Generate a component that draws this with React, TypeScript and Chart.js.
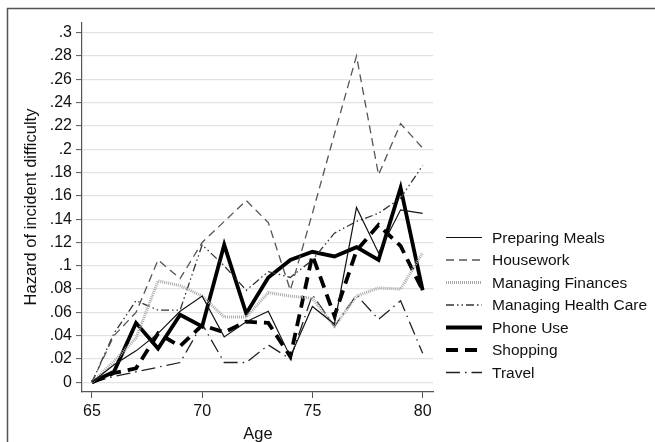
import React, { useEffect, useRef } from "react";
import { Chart, registerables } from "chart.js";

Chart.register(...registerables);

const ages = [65, 66, 67, 68, 69, 70, 71, 72, 73, 74, 75, 76, 77, 78, 79, 80];
const preparingMeals = [0, 0.015, 0.027, 0.042, 0.061, 0.074, 0.039, 0.052, 0.061, 0.022, 0.065, 0.05, 0.15, 0.111, 0.148, 0.145];
const housework = [0, 0.04, 0.06, 0.105, 0.089, 0.12, 0.138, 0.156, 0.137, 0.079, 0.145, 0.213, 0.28, 0.178, 0.222, 0.201];
const managingFinances = [0, 0.018, 0.038, 0.087, 0.083, 0.074, 0.056, 0.056, 0.077, 0.074, 0.072, 0.048, 0.074, 0.081, 0.08, 0.111];
const managingHealthCare = [0, 0.042, 0.07, 0.062, 0.062, 0.118, 0.1, 0.079, 0.095, 0.09, 0.105, 0.128, 0.138, 0.145, 0.158, 0.186];
const phoneUse = [0, 0.009, 0.051, 0.029, 0.058, 0.048, 0.118, 0.059, 0.09, 0.105, 0.112, 0.108, 0.116, 0.105, 0.167, 0.079];
const shopping = [0, 0.008, 0.012, 0.042, 0.031, 0.049, 0.043, 0.052, 0.051, 0.022, 0.109, 0.057, 0.113, 0.135, 0.117, 0.079];
const travel = [0, 0.005, 0.009, 0.013, 0.017, 0.05, 0.017, 0.017, 0.032, 0.02, 0.075, 0.048, 0.075, 0.054, 0.07, 0.025];

const yTicks = [0, 0.02, 0.04, 0.06, 0.08, 0.1, 0.12, 0.14, 0.16, 0.18, 0.2, 0.22, 0.24, 0.26, 0.28, 0.3];
const xTicks = [65, 70, 75, 80];

const seriesNames = ["Preparing Meals", "Housework", "Managing Finances", "Managing Health Care", "Phone Use", "Shopping", "Travel"];
const seriesValues = [preparingMeals, housework, managingFinances, managingHealthCare, phoneUse, shopping, travel];
const seriesStyles = [
  { color: "#111", width: 1.2, dash: [] as number[] },
  { color: "#555", width: 1.3, dash: [8, 5] },
  { color: "#aaa", width: 3, dash: [1, 1] },
  { color: "#333", width: 1.3, dash: [8, 3, 1.5, 3, 1.5, 3] },
  { color: "#000", width: 3.8, dash: [] as number[] },
  { color: "#000", width: 3.8, dash: [12, 7] },
  { color: "#222", width: 1.3, dash: [14, 5, 1.5, 5] },
];

const FONT = "'Liberation Sans', Arial, sans-serif";

function fmtY(v: number): string {
  if (v === 0) return "0";
  const s = (Math.round(v * 100) / 100).toString();
  return s.replace(/^0/, "");
}

export default function App() {
  const ref = useRef<HTMLCanvasElement | null>(null);
  useEffect(() => {
    if (!ref.current) return;
    const extras = {
      id: "extras",
      afterDraw(chart: any) {
        const ctx = chart.ctx as CanvasRenderingContext2D;
        ctx.save();
        ctx.strokeStyle = "#555";
        ctx.lineWidth = 1.5;
        ctx.setLineDash([]);
        ctx.beginPath();
        ctx.moveTo(7.5, 442);
        ctx.lineTo(7.5, 8.5);
        ctx.lineTo(655, 8.5);
        ctx.stroke();
        const y0 = 237.5;
        const dy = 22.5;
        ctx.font = `15.5px ${FONT}`;
        ctx.textBaseline = "middle";
        ctx.textAlign = "left";
        seriesNames.forEach((name, i) => {
          const st = seriesStyles[i];
          const y = y0 + i * dy;
          ctx.strokeStyle = st.color;
          ctx.lineWidth = st.width;
          ctx.setLineDash(st.dash);
          ctx.beginPath();
          ctx.moveTo(446, y);
          ctx.lineTo(482, y);
          ctx.stroke();
          ctx.setLineDash([]);
          ctx.fillStyle = "#111";
          ctx.fillText(name, 492, y + 1);
        });
        ctx.fillStyle = "#111";
        ctx.font = `16.5px ${FONT}`;
        ctx.textAlign = "center";
        ctx.textBaseline = "alphabetic";
        ctx.fillText("Age", 258, 439);
        ctx.save();
        ctx.translate(36, 207);
        ctx.rotate(-Math.PI / 2);
        ctx.fillText("Hazard of incident difficulty", 0, 0);
        ctx.restore();
        ctx.restore();
      },
    };
    const chart = new Chart(ref.current, {
      type: "line",
      data: {
        datasets: seriesNames.map((name, i) => ({
          label: name,
          data: ages.map((a, j) => ({ x: a, y: seriesValues[i][j] })),
          borderColor: seriesStyles[i].color,
          borderWidth: seriesStyles[i].width,
          borderDash: seriesStyles[i].dash,
          pointRadius: 0,
          tension: 0,
          fill: false,
          borderJoinStyle: "miter" as const,
        })),
      },
      options: {
        animation: false,
        responsive: false,
        events: [],
        layout: { padding: { left: 0, top: 23, right: 222, bottom: 0 } },
        plugins: { legend: { display: false }, tooltip: { enabled: false } },
        scales: {
          x: {
            type: "linear",
            min: 64.55,
            max: 80.47,
            afterFit: (s: any) => { s.height = 50; },
            afterBuildTicks: (s: any) => { s.ticks = xTicks.map((v) => ({ value: v })); },
            grid: { drawOnChartArea: false, drawTicks: true, tickLength: 6, tickColor: "#555", tickWidth: 1 },
            border: { display: true, color: "#555", width: 1.2 },
            ticks: { color: "#111", font: { family: FONT, size: 16 }, padding: 4, maxRotation: 0, callback: (v: any) => String(v) },
          },
          y: {
            type: "linear",
            min: -0.0083,
            max: 0.3083,
            afterFit: (s: any) => { s.width = 82; },
            afterBuildTicks: (s: any) => { s.ticks = yTicks.map((v) => ({ value: v })); },
            grid: { drawOnChartArea: true, color: "#e3e3e3", lineWidth: 1.2, drawTicks: true, tickLength: 6, tickColor: "#555", tickWidth: 1 },
            border: { display: true, color: "#555", width: 1.2 },
            ticks: { color: "#111", font: { family: FONT, size: 16 }, padding: 4, callback: (v: any) => fmtY(Number(v)) },
          },
        },
      },
      plugins: [extras],
    } as any);
    return () => chart.destroy();
  }, []);
  return (
    <div style={{ position: "absolute", left: 0, top: 0, width: 655, height: 442, background: "#fff" }}>
      <canvas ref={ref} width={655} height={442} style={{ width: 655, height: 442, display: "block" }} />
    </div>
  );
}
